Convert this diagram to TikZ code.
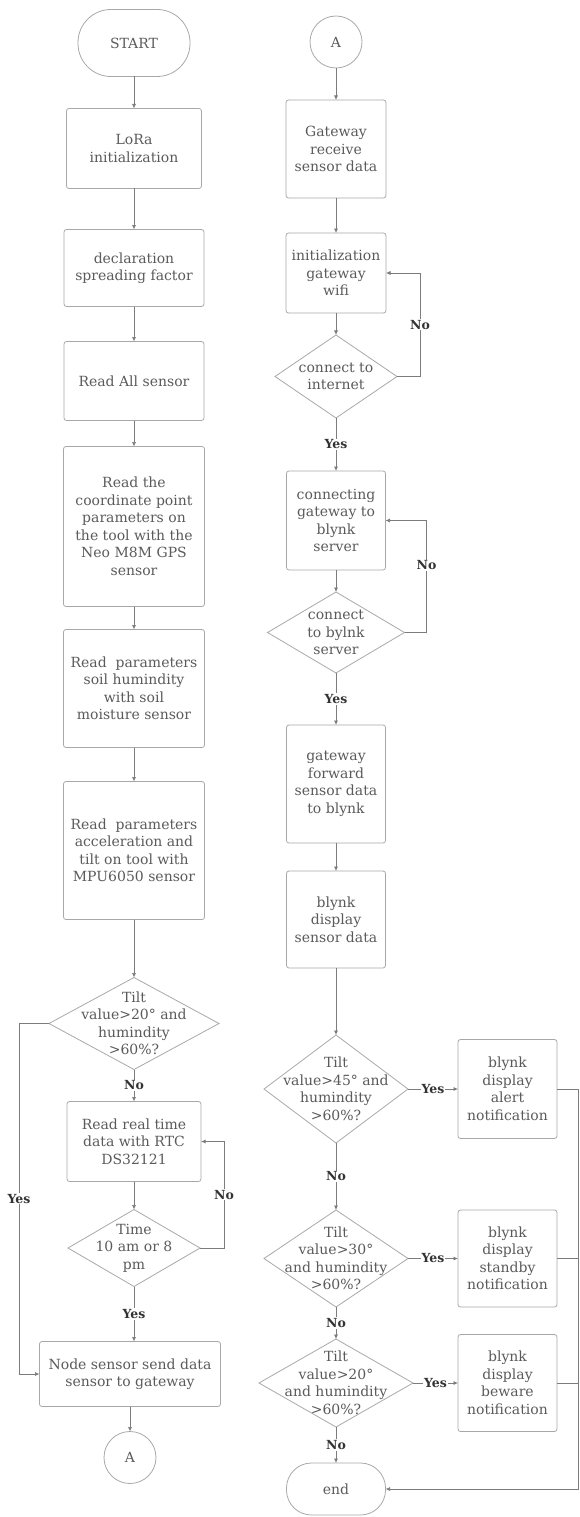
\documentclass[tikz,border=0pt]{standalone}
\usepackage{fontspec}
\setmainfont{DejaVu Serif}
\usetikzlibrary{arrows.meta,positioning,shapes.geometric}
\definecolor{BoxLine}  {HTML}{A8A8A8}
\definecolor{FlowLine} {HTML}{7C7C7C}
\definecolor{BoxText}  {HTML}{5A5A5A}
\definecolor{TagText}  {HTML}{333333}

\begin{document}
\begin{tikzpicture}[x=1pt,y=-1pt,
    base/.style={draw=BoxLine,text=BoxText,line width=0.8pt,align=center,
                 font=\fontsize{14}{17.5}\selectfont,inner sep=2pt,outer sep=0pt},
    process/.style={base,rectangle,rounded corners=2.5pt},
    term/.style={base,rectangle},
    decision/.style={base,diamond,inner sep=0pt},
    dtext/.style={text=BoxText,align=center,font=\fontsize{14}{17.5}\selectfont},
    conn/.style={base,circle,minimum size=52pt,inner sep=0pt},
    arr/.style={-{Latex[length=4.5pt,width=4pt]},draw=FlowLine,line width=0.7pt},
    yn/.style={fill=white,text=TagText,inner sep=1pt,
               font=\fontsize{12.5}{14}\selectfont\bfseries}]
    \useasboundingbox (0,0) rectangle (580,1517);
    % left column: sensor node
    \node[term,minimum width=112pt,minimum height=67pt,rounded corners=33pt] (start) at (134,43) {START};
    \node[process,minimum width=135pt,minimum height=80pt,below=32pt of start] (lora) {LoRa\\initialization};
    \node[process,minimum width=140pt,minimum height=77pt,below=41pt of lora] (decl) {declaration\\spreading factor};
    \node[process,minimum width=140pt,minimum height=79pt,below=35pt of decl] (readall) {Read All sensor};
    \node[process,minimum width=141pt,minimum height=160pt,below=26pt of readall] (gps) {Read the\\coordinate point\\parameters on\\the tool with the\\Neo M8M GPS\\sensor};
    \node[process,minimum width=141pt,minimum height=118pt,below=23pt of gps] (soil) {Read\ \ parameters\\soil humindity\\with soil\\moisture sensor};
    \node[process,minimum width=141pt,minimum height=138pt,below=34pt of soil] (accel) {Read\ \ parameters\\acceleration and\\tilt on tool with\\MPU6050 sensor};
    \node[decision,minimum width=170pt,minimum height=92pt,below=58pt of accel,
          label={[dtext]center:Tilt\\value>20° and\\humindity\\>60\%?}] (tilt1) {};
    \node[process,minimum width=134pt,minimum height=80pt,below=32pt of tilt1] (rtc) {Read real time\\data with RTC\\DS32121};
    \node[decision,minimum width=132pt,minimum height=77pt,below=28pt of rtc,
          label={[dtext]center:Time\\10 am or 8\\pm}] (time) {};
    \node[process,minimum width=181pt,minimum height=65pt,below=55pt of time,xshift=-4pt] (send) {Node sensor send data\\sensor to gateway};
    \node[conn,below=25pt of send] (outA) {A};

    % right column: gateway
    \node[conn] (inA) at (336,42) {A};
    \node[process,minimum width=100pt,minimum height=98pt,below=32pt of inA] (gwrx) {Gateway\\receive\\sensor data};
    \node[process,minimum width=100pt,minimum height=80pt,below=35pt of gwrx] (wifi) {initialization\\gateway\\wifi};
    \node[decision,minimum width=122pt,minimum height=83pt,below=22pt of wifi,
          label={[dtext]center:connect to\\internet}] (inet) {};
    \node[process,minimum width=99pt,minimum height=99pt,below=53pt of inet] (conbl) {connecting\\gateway to\\blynk\\server};
    \node[decision,minimum width=137pt,minimum height=81pt,below=22pt of conbl,
          label={[dtext]center:connect\\to bylnk\\server}] (srv) {};
    \node[process,minimum width=99pt,minimum height=118pt,below=52pt of srv] (fwd) {gateway\\forward\\sensor data\\to blynk};
    \node[process,minimum width=99pt,minimum height=97pt,below=28pt of fwd] (show) {blynk\\display\\sensor data};
    \node[decision,minimum width=144pt,minimum height=108pt,below=67pt of show,
          label={[dtext]center:Tilt\\value>45° and\\humindity\\>60\%?}] (t45) {};
    \node[decision,minimum width=144pt,minimum height=97pt,below=67pt of t45,
          label={[dtext]center:Tilt\\value>30°\\and humindity\\>60\%?}] (t30) {};
    \node[decision,minimum width=154pt,minimum height=88pt,below=32pt of t30,
          label={[dtext]center:Tilt\\value>20°\\and humindity\\>60\%?}] (t20) {};
    \node[term,minimum width=99pt,minimum height=52pt,rounded corners=25pt,below=36pt of t20] (end) {end};
    \node[process,minimum width=99pt,minimum height=99pt,right=50pt of t45] (alert) {blynk\\display\\alert\\notification};
    \node[process,minimum width=99pt,minimum height=97pt,right=50pt of t30] (standby) {blynk\\display\\standby\\notification};
    \node[process,minimum width=99pt,minimum height=97pt,right=45pt of t20] (beware) {blynk\\display\\beware\\notification};

    % connectors left
    \draw[arr] (start) -- (lora);
    \draw[arr] (lora) -- (decl);
    \draw[arr] (decl) -- (readall);
    \draw[arr] (readall) -- (gps);
    \draw[arr] (gps) -- (soil);
    \draw[arr] (soil) -- (accel);
    \draw[arr] (accel) -- (tilt1);
    \draw[arr] (tilt1) -- node[yn] {No} (rtc);
    \draw[arr] (rtc) -- (time);
    \draw[arr] (time.south) -- node[yn] {Yes} (time.south |- send.north);
    \draw[arr] (send) -- (outA);
    \draw[arr] (tilt1.west) -- ++(-30,0) |- node[yn,pos=0.25] {Yes} (send.west);
    \draw[arr] (time.east) -- ++(24,0) |- node[yn,pos=0.25] {No} (rtc.east);

    % connectors right
    \draw[arr] (inA) -- (gwrx);
    \draw[arr] (gwrx) -- (wifi);
    \draw[arr] (wifi) -- (inet);
    \draw[arr] (inet) -- node[yn] {Yes} (conbl);
    \draw[arr] (inet.east) -- ++(23,0) |- node[yn,pos=0.25] {No} (wifi.east);
    \draw[arr] (conbl) -- (srv);
    \draw[arr] (srv) -- node[yn] {Yes} (fwd);
    \draw[arr] (srv.east) -- ++(22,0) |- node[yn,pos=0.3] {No} (conbl.east);
    \draw[arr] (fwd) -- (show);
    \draw[arr] (show) -- (t45);
    \draw[arr] (t45) -- node[yn] {No} (t30);
    \draw[arr] (t30) -- node[yn] {No} (t20);
    \draw[arr] (t20) -- node[yn] {No} (end);
    \draw[arr] (t45) -- node[yn] {Yes} (alert);
    \draw[arr] (t30) -- node[yn] {Yes} (standby);
    \draw[arr] (t20) -- node[yn] {Yes} (beware);
    \draw[arr] (alert.east) -- ++(21,0) |- (end.east);
    \draw[draw=FlowLine,line width=0.7pt] (standby.east) -- ++(21,0);
    \draw[draw=FlowLine,line width=0.7pt] (beware.east) -- ++(21,0);
\end{tikzpicture}
\end{document}
